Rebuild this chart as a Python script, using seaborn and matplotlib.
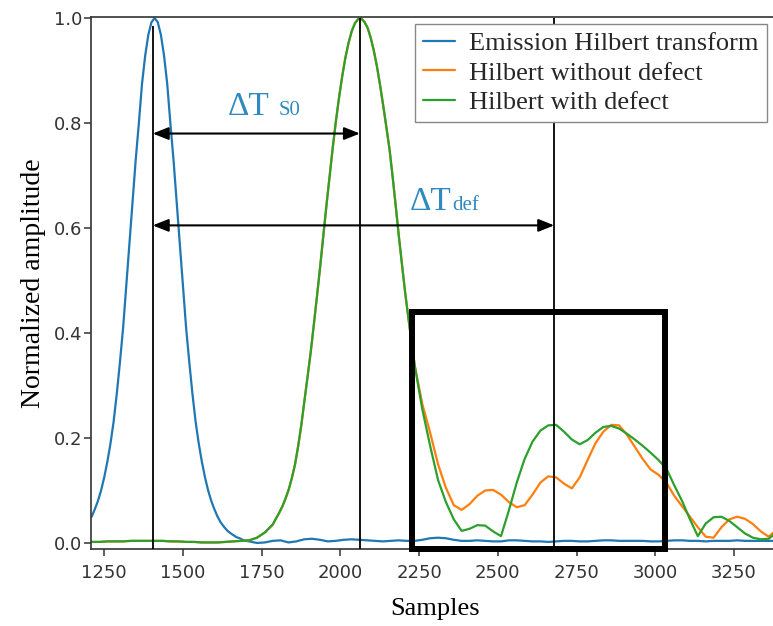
import matplotlib
matplotlib.use("Agg")
import matplotlib.pyplot as plt
from matplotlib.patches import Rectangle
import seaborn as sns

# emission envelope: dense around the peak, then every 25 samples
emission_x = list(range(1210, 1711, 10)) + list(range(1735, 3386, 25))
emission = [0.05, 0.064, 0.08, 0.1, 0.125, 0.155, 0.19, 0.232, 0.285, 0.345,
            0.41, 0.49, 0.57, 0.65, 0.73, 0.80, 0.875, 0.928, 0.968, 0.992,
            1.0, 0.992, 0.968, 0.928, 0.875, 0.80, 0.73, 0.65, 0.57, 0.49,
            0.41, 0.345, 0.285, 0.232, 0.19, 0.155, 0.125, 0.1, 0.08, 0.064,
            0.05, 0.039, 0.031, 0.024, 0.019, 0.015, 0.011, 0.009, 0.006, 0.004,
            0.003,
            0.0, 0.001, 0.004, 0.005, 0.001, 0.003, 0.007, 0.008, 0.006, 0.003,
            0.004, 0.006, 0.007, 0.006, 0.005, 0.004, 0.003, 0.004, 0.005, 0.004,
            0.004, 0.006, 0.009, 0.01, 0.009, 0.006, 0.004, 0.004, 0.005, 0.004,
            0.003, 0.003, 0.005, 0.005, 0.004, 0.003, 0.003, 0.002, 0.003, 0.004,
            0.004, 0.003, 0.003, 0.004, 0.005, 0.005, 0.004, 0.004, 0.004, 0.004,
            0.003, 0.003, 0.004, 0.005, 0.005, 0.004, 0.004, 0.003, 0.004, 0.004,
            0.004, 0.005, 0.004, 0.004, 0.004, 0.004, 0.004]

# received envelopes
recv_x = list(range(1210, 1786, 25)) + list(range(1806, 2237, 10)) + list(range(2260, 3386, 25))

# first arrival, identical for both receptions (1210 .. 2236)
common = [0.002, 0.002, 0.003, 0.003, 0.003, 0.004, 0.004, 0.004, 0.004, 0.004,
          0.003, 0.003, 0.002, 0.002, 0.001, 0.001, 0.001, 0.002, 0.003, 0.004,
          0.005, 0.010, 0.02, 0.035,
          0.058, 0.07, 0.085, 0.102, 0.124, 0.15, 0.185, 0.225, 0.272, 0.318,
          0.365, 0.418, 0.472, 0.528, 0.587, 0.645, 0.70, 0.755, 0.805, 0.85,
          0.89, 0.925, 0.953, 0.975, 0.99, 0.998, 0.999, 0.993, 0.982, 0.963,
          0.938, 0.908, 0.872, 0.833, 0.792, 0.75, 0.697, 0.64, 0.582, 0.528,
          0.475, 0.428, 0.382, 0.338]

# 2260 .. 3385
tail_no_defect = [0.265, 0.21, 0.15, 0.105, 0.072, 0.063, 0.074, 0.09, 0.1, 0.101,
                  0.092, 0.078, 0.068, 0.072, 0.092, 0.115, 0.127, 0.125, 0.113, 0.104,
                  0.125, 0.158, 0.19, 0.212, 0.225, 0.224, 0.206, 0.183, 0.16, 0.14,
                  0.13, 0.115, 0.09, 0.07, 0.05, 0.03, 0.012, 0.01, 0.03, 0.045,
                  0.05, 0.046, 0.036, 0.022, 0.012, 0.025]
tail_defect = [0.255, 0.185, 0.12, 0.078, 0.045, 0.023, 0.027, 0.034, 0.033, 0.022,
               0.013, 0.062, 0.115, 0.16, 0.193, 0.214, 0.224, 0.225, 0.212, 0.197,
               0.188, 0.196, 0.21, 0.221, 0.223, 0.218, 0.208, 0.197, 0.185, 0.172,
               0.158, 0.142, 0.11, 0.08, 0.045, 0.013, 0.037, 0.049, 0.05, 0.042,
               0.03, 0.018, 0.01, 0.007, 0.008, 0.02]

no_defect = common + tail_no_defect
with_defect = common + tail_defect

labels = ["Emission Hilbert transform", "Hilbert without defect", "Hilbert with defect"]
t_emit, t_s0, t_def = 1404, 2062, 2679

sns.set_theme(style="ticks")
plt.rcParams["font.family"] = ["DejaVu Sans"]

fig = plt.figure(figsize=(7.73, 6.26), dpi=100)
ax = fig.add_axes([91 / 773, 77 / 626, 688.7 / 773, 532 / 626])

sns.lineplot(x=emission_x, y=emission, ax=ax, color="#1f77b4", lw=1.6, label=labels[0], estimator=None)
sns.lineplot(x=recv_x, y=no_defect, ax=ax, color="#ff7f0e", lw=1.6, label=labels[1], estimator=None)
sns.lineplot(x=recv_x, y=with_defect, ax=ax, color="#2ca02c", lw=1.6, label=labels[2], estimator=None)

ymin = -0.0115
ax.set_xlim(1208, 3395)
ax.set_ylim(ymin, 1.002)

# time markers
ax.vlines(t_emit, ymin, 0.985, color="black", lw=1.3, zorder=4)
ax.vlines(t_s0, ymin, 1.0, color="black", lw=1.3, zorder=4)
ax.vlines(t_def, ymin, 1.0, color="black", lw=1.3, zorder=4)

astyle = dict(arrowstyle="<|-|>,head_length=0.5,head_width=0.2", color="black",
              lw=1.5, mutation_scale=19, shrinkA=0, shrinkB=0)
ax.annotate("", xy=(t_s0, 0.78), xytext=(t_emit, 0.78), arrowprops=astyle)
ax.annotate("", xy=(t_def, 0.605), xytext=(t_emit, 0.605), arrowprops=astyle)

tcol = "#2f8abf"
ax.text(1641, 0.815, "ΔT", color=tcol, fontsize=24, family="Liberation Serif", va="baseline")
ax.text(1805, 0.815, "S0", color=tcol, fontsize=15, family="Liberation Serif", va="baseline")
ax.text(2220, 0.634, "ΔT", color=tcol, fontsize=24, family="Liberation Serif", va="baseline")
ax.text(2354, 0.634, "def", color=tcol, fontsize=15, family="Liberation Serif", va="baseline")

# zone of interest
ax.add_patch(Rectangle((2227, ymin), 3032 - 2227, 0.44 - ymin, fill=False,
                       edgecolor="black", lw=4.3, clip_on=False, zorder=5))

ax.set_xticks([1250, 1500, 1750, 2000, 2250, 2500, 2750, 3000, 3250])
ax.set_yticks([0.0, 0.2, 0.4, 0.6, 0.8, 1.0])
ax.tick_params(labelsize=13, labelcolor="#333333", color="#333333", length=5, width=1.1)
ax.tick_params(axis="x", pad=6)
ax.tick_params(axis="y", pad=1.5)
for s in ax.spines.values():
    s.set_color("#333333")
    s.set_linewidth(1.2)

ax.set_xlabel("Samples", fontsize=19, family="Liberation Serif", color="black")
ax.set_ylabel("Normalized amplitude", fontsize=20, family="Liberation Serif", color="black")
ax.xaxis.set_label_coords(0.5, -0.092)
ax.yaxis.set_label_coords(-0.066, 0.5)

leg = ax.legend(loc="upper left", bbox_to_anchor=(0.4705, 0.987), borderaxespad=0,
                prop={"family": "Liberation Serif", "size": 19}, frameon=True,
                fancybox=False, framealpha=1, edgecolor="#888888",
                handlelength=1.2, handletextpad=0.55, labelspacing=0.22, borderpad=0.3)
leg.get_frame().set_linewidth(1.0)
leg.set_zorder(10)

fig.savefig("out.png", dpi=100)
